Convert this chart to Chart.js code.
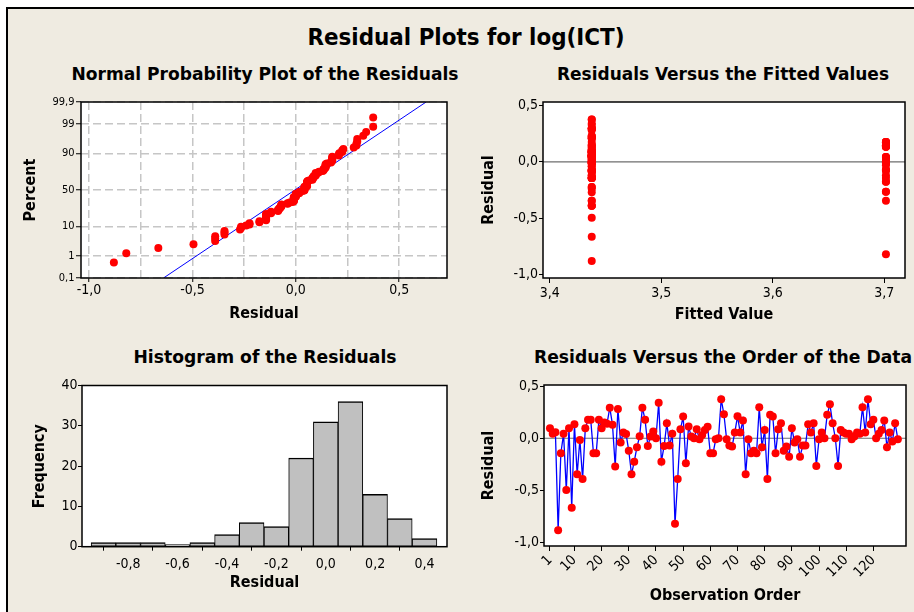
<!DOCTYPE html>
<html>
<head>
<meta charset="utf-8">
<title>Residual Plots for log(ICT)</title>
<script src="https://cdn.jsdelivr.net/npm/chart.js@4.4.1/dist/chart.umd.min.js"></script>
<style>
  html, body { margin: 0; padding: 0; background: #fff; }
  body { width: 914px; height: 612px; position: relative; overflow: hidden;
         font-family: "DejaVu Sans Condensed", "DejaVu Sans", sans-serif; }
  #frame { position: absolute; left: 6px; top: 7px; width: 940px; height: 640px;
           background: #efebe1; border-top: 2px solid #000; border-left: 2px solid #000; }
  .ttl { position: absolute; font-weight: bold; white-space: nowrap; line-height: 1;
         color: #000; transform: translateX(-50%); }
  canvas { position: absolute; }
</style>
</head>
<body>
<div id="frame"></div>
<div class="ttl" style="left:465.5px; top:25.6px; font-size:23px" data-w="317">Residual Plots for log(ICT)</div>
<div class="ttl" style="left:264.5px; top:66.4px; font-size:17px" data-w="387">Normal Probability Plot of the Residuals</div>
<div class="ttl" style="left:723px; top:66.4px; font-size:17px" data-w="332">Residuals Versus the Fitted Values</div>
<div class="ttl" style="left:264.5px; top:349.4px; font-size:17px" data-w="263">Histogram of the Residuals</div>
<div class="ttl" style="left:723px; top:349.4px; font-size:17px" data-w="378">Residuals Versus the Order of the Data</div>

<canvas id="c1" width="460" height="285" style="left:0px; top:55px"></canvas>
<canvas id="c2" width="452" height="285" style="left:462px; top:55px"></canvas>
<canvas id="c3" width="460" height="272" style="left:0px; top:340px"></canvas>
<canvas id="c4" width="452" height="272" style="left:462px; top:340px"></canvas>

<script>
// residuals in observation order
const residuals = [
  0.096, 0.042, 0.058, -0.88, -0.144, 0.042, -0.495, 0.096, -0.665, 0.134,
  -0.345, -0.016, -0.39, 0.096, 0.176, 0.176, -0.144, -0.144, 0.176, 0.096,
  0.15, 0.14, 0.293, 0.13, -0.27, 0.28, -0.04, 0.054, 0.04, -0.12,
  -0.345, -0.224, -0.086, 0.02, 0.293, 0.176, -0.074, 0.016, 0.064, 0.0,
  0.34, -0.224, -0.074, 0.144, -0.07, 0.042, -0.82, -0.39, 0.086, 0.208,
  -0.24, 0.112, 0.016, 0.0, 0.086, -0.01, 0.032, 0.08, 0.11, -0.144,
  -0.144, -0.01, 0.0, 0.374, 0.23, -0.01, -0.07, -0.08, 0.054, 0.21,
  0.054, 0.17, -0.345, -0.01, -0.144, -0.12, -0.144, 0.297, -0.086, 0.08,
  -0.39, 0.224, 0.208, -0.144, 0.086, 0.144, -0.12, -0.08, -0.176, 0.096,
  -0.04, -0.01, -0.176, -0.07, -0.07, 0.134, 0.054, 0.144, -0.265, -0.01,
  0.054, 0.0, 0.224, 0.326, 0.144, 0.0, -0.265, 0.08, 0.054, 0.042,
  0.042, -0.01, 0.016, 0.054, 0.042, 0.297, 0.054, 0.374, 0.134, 0.176,
  0.0, 0.042, 0.08, 0.17, -0.086, 0.055, -0.03, 0.144, -0.01
];

// observations sitting on the higher fitted value
const highFittedObs = [10, 15, 16, 19, 47, 72, 73, 84, 86, 87, 88, 89, 93, 94, 95, 96, 98, 99,
  100, 102, 105, 106, 107, 110, 111, 112, 113, 119, 120, 121, 122, 124, 127, 128, 129];
const fittedLow = 3.4377;
const fittedHigh = 3.7015;

// histogram
const histCenters = [-0.9, -0.8, -0.7, -0.6, -0.5, -0.4, -0.3, -0.2, -0.1, 0.0, 0.1, 0.2, 0.3, 0.4];
const histCounts = [1, 1, 1, 0, 1, 3, 6, 5, 22, 31, 36, 13, 7, 2];

// normal probability plot
const percentTicks = [0.1, 1, 10, 50, 90, 99, 99.9];
const percentLabels = ['0,1', '1', '10', '50', '90', '99', '99,9'];
const fitLineResidual = [-0.64, 0.63];
const fitLinePercent = [0.1, 99.9];
const probGridX = [-1, -0.75, -0.5, -0.25, 0, 0.25, 0.5];

// tick values
const fittedTicks = [3.4, 3.5, 3.6, 3.7];
const residualTicks = [-1, -0.5, 0, 0.5];
const histTicksX = [-0.8, -0.6, -0.4, -0.2, 0, 0.2, 0.4];
const histTicksY = [0, 10, 20, 30, 40];
const orderTicks = [1, 10, 20, 30, 40, 50, 60, 70, 80, 90, 100, 110, 120];

const RED = '#ff0000';
const BLUE = '#0000ff';

// inverse standard normal (Acklam)
function normInv(p) {
  const a = [-39.69683028665376, 220.9460984245205, -275.9285104469687, 138.3577518672690, -30.66479806614716, 2.506628277459239];
  const b = [-54.47609879822406, 161.5858368580409, -155.6989798598866, 66.80131188771972, -13.28068155288572];
  const c = [-0.007784894002430293, -0.3223964580411365, -2.400758277161838, -2.549732539343734, 4.374664141464968, 2.938163982698783];
  const d = [0.007784695709041462, 0.3224671290700398, 2.445134137142996, 3.754408661907416];
  const pl = 0.02425;
  let q, r;
  if (p < pl) {
    q = Math.sqrt(-2 * Math.log(p));
    return (((((c[0]*q+c[1])*q+c[2])*q+c[3])*q+c[4])*q+c[5]) / ((((d[0]*q+d[1])*q+d[2])*q+d[3])*q+1);
  }
  if (p > 1 - pl) {
    q = Math.sqrt(-2 * Math.log(1 - p));
    return -(((((c[0]*q+c[1])*q+c[2])*q+c[3])*q+c[4])*q+c[5]) / ((((d[0]*q+d[1])*q+d[2])*q+d[3])*q+1);
  }
  q = p - 0.5; r = q * q;
  return (((((a[0]*r+a[1])*r+a[2])*r+a[3])*r+a[4])*r+a[5])*q / (((((b[0]*r+b[1])*r+b[2])*r+b[3])*r+b[4])*r+1);
}
const zOf = pct => normInv(pct / 100);

// squeeze the html titles to the reference widths
document.querySelectorAll('.ttl').forEach(el => {
  const w = el.getBoundingClientRect().width;
  el.style.transform = `translateX(-50%) scaleX(${(+el.dataset.w / w).toFixed(4)})`;
});

Chart.defaults.font.family = '"DejaVu Sans Condensed", "DejaVu Sans", sans-serif';
Chart.defaults.color = '#000';

// white plot area, black frame, optional zero line
Chart.register({
  id: 'frame',
  beforeDraw(chart) {
    const { ctx, chartArea: a } = chart;
    ctx.save();
    ctx.fillStyle = '#fff';
    ctx.fillRect(a.left, a.top, a.width, a.height);
    ctx.restore();
  },
  beforeDatasetsDraw(chart, args, opts) {
    if (!opts.zero) return;
    const { ctx, chartArea: a } = chart;
    const y = chart.scales.y.getPixelForValue(0);
    ctx.save();
    ctx.strokeStyle = '#6e6e6e';
    ctx.lineWidth = 1.2;
    ctx.beginPath();
    ctx.moveTo(a.left, y);
    ctx.lineTo(a.right, y);
    ctx.stroke();
    ctx.restore();
  },
  afterDraw(chart) {
    const { ctx, chartArea: a } = chart;
    ctx.save();
    ctx.strokeStyle = '#000';
    ctx.lineWidth = 1.5;
    ctx.strokeRect(a.left, a.top, a.width, a.height);
    ctx.restore();
  }
});

const comma = v => v.toFixed(1).replace('.', ',');
const setTicks = list => s => { s.ticks = list.map(v => ({ value: v })); };
const axisTitle = (text, padding) => ({
  display: true, text, color: '#000', padding,
  font: { size: 16, weight: 'bold' }
});
const base = {
  responsive: false,
  animation: false,
  events: [],
  plugins: { legend: { display: false }, tooltip: { enabled: false } }
};
const plainGrid = (len) => ({ drawOnChartArea: false, tickLength: len, tickColor: '#000', tickWidth: 1 });

// ---------- 1. normal probability plot ----------
const n = residuals.length;
const sorted = residuals.slice().sort((p, q) => p - q);
const probPoints = sorted.map((r, i) => ({ x: r, y: zOf(100 * (i + 1 - 0.3) / (n + 0.4)) }));
const fitLine = fitLineResidual.map((r, i) => ({ x: r, y: zOf(fitLinePercent[i]) }));
const isHalf = v => Math.abs(v * 2 - Math.round(v * 2)) < 1e-9;

new Chart(document.getElementById('c1'), {
  type: 'scatter',
  data: {
    datasets: [
      { data: probPoints, pointRadius: 4, pointBackgroundColor: RED, pointBorderWidth: 0 },
      { data: fitLine, showLine: true, borderColor: BLUE, borderWidth: 1, pointRadius: 0 }
    ]
  },
  options: {
    ...base,
    layout: { padding: { left: 0, top: 47, right: 13, bottom: 0 } },
    scales: {
      x: {
        type: 'linear', min: -1.039, max: 0.731,
        afterBuildTicks: setTicks(probGridX),
        afterFit: s => { s.height = 62; },
        grid: {
          color: '#c6c6c6', lineWidth: 1.5, tickLength: 4, tickWidth: 1,
          tickColor: c => (c.tick && isHalf(c.tick.value) ? '#000' : 'rgba(0,0,0,0)')
        },
        border: { display: false, dash: [8, 4] },
        ticks: {
          autoSkip: false, maxRotation: 0, padding: 0, font: { size: 14 },
          callback: v => (isHalf(v) ? comma(v) : '')
        },
        title: axisTitle('Residual', { top: 0, bottom: 16.4 })
      },
      y: {
        type: 'linear', min: zOf(0.1), max: zOf(99.9),
        afterBuildTicks: setTicks(percentTicks.map(zOf)),
        afterFit: s => { s.width = 81; },
        grid: { color: '#c6c6c6', lineWidth: 1.5, tickLength: 5, tickColor: '#000', tickWidth: 1 },
        border: { display: false, dash: [8, 4] },
        ticks: {
          autoSkip: false, padding: 1.5, font: { size: 11 },
          callback: (v, i) => percentLabels[i]
        },
        title: axisTitle('Percent', { top: 21, bottom: 0 })
      }
    }
  }
});

// ---------- 2. residuals vs fitted ----------
const fittedPoints = residuals.map((r, i) => ({
  x: highFittedObs.includes(i + 1) ? fittedHigh : fittedLow,
  y: r
}));

new Chart(document.getElementById('c2'), {
  type: 'scatter',
  data: { datasets: [{ data: fittedPoints, pointRadius: 4, pointBackgroundColor: RED, pointBorderWidth: 0 }] },
  options: {
    ...base,
    plugins: { ...base.plugins, frame: { zero: true } },
    layout: { padding: { left: 0, top: 47, right: 9, bottom: 0 } },
    scales: {
      x: {
        type: 'linear', min: 3.394, max: 3.7186,
        afterBuildTicks: setTicks(fittedTicks),
        afterFit: s => { s.height = 62; },
        grid: plainGrid(5),
        border: { display: false },
        ticks: { autoSkip: false, maxRotation: 0, padding: 2, font: { size: 14 }, callback: v => comma(v) },
        title: axisTitle('Fitted Value', { top: 0, bottom: 15.9 })
      },
      y: {
        type: 'linear', min: -1.03, max: 0.53,
        afterBuildTicks: setTicks(residualTicks),
        afterFit: s => { s.width = 81; },
        grid: plainGrid(4),
        border: { display: false },
        ticks: { autoSkip: false, padding: 1, font: { size: 14 }, callback: v => comma(v) },
        title: axisTitle('Residual', { top: 17.4, bottom: 0 })
      }
    }
  }
});

// ---------- 3. histogram ----------
new Chart(document.getElementById('c3'), {
  type: 'bar',
  data: {
    datasets: [{
      data: histCenters.map((c, i) => ({ x: c, y: histCounts[i] })),
      backgroundColor: '#c0c0c0', borderColor: '#000',
      borderWidth: { top: 1.5, left: 1, right: 1, bottom: 1 },
      borderSkipped: false, minBarLength: 2, barPercentage: 1, categoryPercentage: 1
    }]
  },
  options: {
    ...base,
    layout: { padding: { left: 0, top: 45.5, right: 13, bottom: 0 } },
    scales: {
      x: {
        type: 'linear', offset: false, min: -0.987, max: 0.491,
        afterBuildTicks: setTicks(histTicksX),
        afterFit: s => { s.height = 65.3; },
        grid: plainGrid(4),
        border: { display: false },
        ticks: { autoSkip: false, maxRotation: 0, padding: 5, font: { size: 14 }, callback: v => comma(v) },
        title: axisTitle('Residual', { top: 0, bottom: 19.9 })
      },
      y: {
        type: 'linear', min: 0, max: 40,
        afterBuildTicks: setTicks(histTicksY),
        afterFit: s => { s.width = 82; },
        grid: plainGrid(4),
        border: { display: false },
        ticks: { autoSkip: false, padding: 0.5, font: { size: 14 } },
        title: axisTitle('Frequency', { top: 29.8, bottom: 0 })
      }
    }
  }
});

// ---------- 4. residuals vs order ----------
new Chart(document.getElementById('c4'), {
  type: 'scatter',
  data: {
    datasets: [{
      data: residuals.map((r, i) => ({ x: i + 1, y: r })),
      showLine: true, borderColor: BLUE, borderWidth: 1.3,
      pointRadius: 4, pointBackgroundColor: RED, pointBorderWidth: 0
    }]
  },
  options: {
    ...base,
    plugins: { ...base.plugins, frame: { zero: true } },
    layout: { padding: { left: 0, top: 45, right: 8, bottom: 0 } },
    scales: {
      x: {
        type: 'linear', min: -1.2, max: 132,
        afterBuildTicks: setTicks(orderTicks),
        afterFit: s => { s.height = 66; },
        grid: plainGrid(5),
        border: { display: false },
        ticks: { autoSkip: false, minRotation: 45, maxRotation: 45, padding: 1, font: { size: 14 } },
        title: axisTitle('Observation Order', { top: 0, bottom: 6.4 })
      },
      y: {
        type: 'linear', min: -1.032, max: 0.51,
        afterBuildTicks: setTicks(residualTicks),
        afterFit: s => { s.width = 82; },
        grid: plainGrid(4),
        border: { display: false },
        ticks: { autoSkip: false, padding: 1, font: { size: 14 }, callback: v => comma(v) },
        title: axisTitle('Residual', { top: 17.4, bottom: 0 })
      }
    }
  }
});
</script>
</body>
</html>
